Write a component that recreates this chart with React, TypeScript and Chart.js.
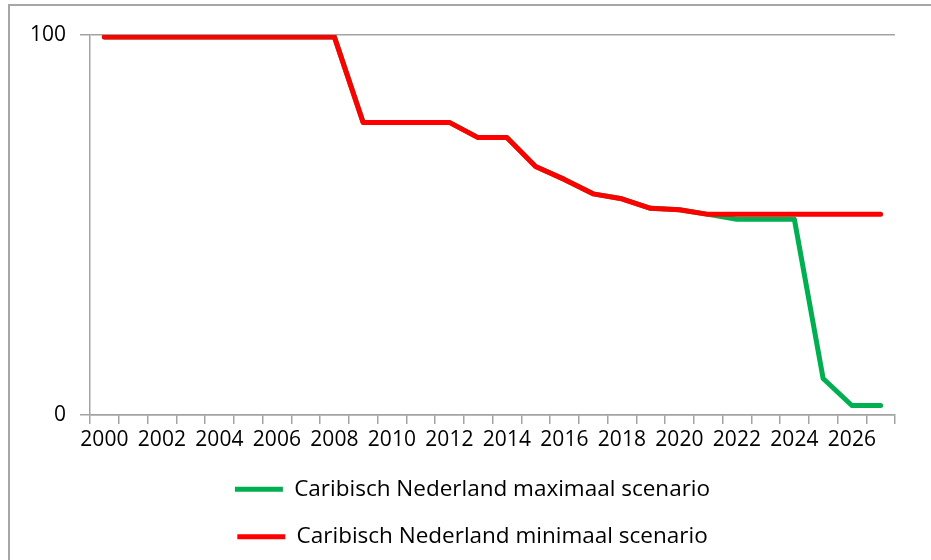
import React, { useEffect, useRef } from "react";
import { Chart, registerables } from "chart.js";

Chart.register(...registerables);

const years = [
  "2000", "2001", "2002", "2003", "2004", "2005", "2006", "2007", "2008", "2009",
  "2010", "2011", "2012", "2013", "2014", "2015", "2016", "2017", "2018", "2019",
  "2020", "2021", "2022", "2023", "2024", "2025", "2026", "2027",
];

const maxScenario = [
  99.5, 99.5, 99.5, 99.5, 99.5, 99.5, 99.5, 99.5, 99.5, 77,
  77, 77, 77, 73, 73, 65.4, 62, 58.2, 56.9, 54.4,
  54, 52.8, 51.5, 51.5, 51.5, 9.6, 2.5, 2.5,
];

const minScenario = [
  99.5, 99.5, 99.5, 99.5, 99.5, 99.5, 99.5, 99.5, 99.5, 77,
  77, 77, 77, 73, 73, 65.4, 62, 58.2, 56.9, 54.4,
  54, 52.8, 52.8, 52.8, 52.8, 52.8, 52.8, 52.8,
];

const yTickValues = [0, 100];

const seriesNames = [
  "Caribisch Nederland maximaal scenario",
  "Caribisch Nederland minimaal scenario",
];

const FONT = "'Open Sans', sans-serif";
const GRID = "#a3a3a3";
const LEGEND_SHIFT = 25;

const legendShift = {
  id: "legendShift",
  afterLayout(chart: any) {
    const lg = chart.legend;
    if (lg) {
      lg.left += LEGEND_SHIFT;
      lg.right += LEGEND_SHIFT;
    }
  },
};

export default function App() {
  const canvasRef = useRef<HTMLCanvasElement | null>(null);

  useEffect(() => {
    const canvas = canvasRef.current;
    if (!canvas) return;
    const chart = new Chart(canvas, {
      type: "line",
      plugins: [legendShift],
      data: {
        labels: years,
        datasets: [
          {
            label: seriesNames[0],
            data: maxScenario,
            borderColor: "#00b050",
            backgroundColor: "#00b050",
            borderWidth: 5,
            borderCapStyle: "round",
            borderJoinStyle: "round",
            pointRadius: 0,
            tension: 0,
            order: 1,
          },
          {
            label: seriesNames[1],
            data: minScenario,
            borderColor: "#ff0000",
            backgroundColor: "#ff0000",
            borderWidth: 5,
            borderCapStyle: "round",
            borderJoinStyle: "round",
            pointRadius: 0,
            tension: 0,
            order: 0,
          },
        ],
      },
      options: {
        animation: false,
        responsive: false,
        maintainAspectRatio: false,
        layout: { padding: { top: 35, right: 36, left: 0, bottom: 0 } },
        plugins: {
          tooltip: { enabled: false },
          legend: {
            position: "bottom",
            labels: {
              sort: (a: any, b: any) => a.datasetIndex - b.datasetIndex,
              usePointStyle: true,
              pointStyle: "line",
              pointStyleWidth: 48,
              boxHeight: 22.5,
              padding: 25,
              color: "#000000",
              font: { family: FONT, size: 22.5 },
            },
          },
        },
        scales: {
          x: {
            type: "category",
            offset: true,
            afterFit: (scale: any) => {
              scale.height = 38;
            },
            grid: {
              offset: true,
              drawOnChartArea: false,
              drawTicks: true,
              tickLength: 9,
              color: GRID,
              lineWidth: 1.5,
            },
            border: { display: true, color: GRID, width: 1.5 },
            ticks: {
              autoSkip: false,
              maxRotation: 0,
              minRotation: 0,
              padding: 3,
              color: "#000000",
              font: { family: FONT, size: 21 },
              callback: (_v: any, i: number) => (i % 2 === 0 ? years[i] : ""),
            },
          },
          y: {
            min: 0,
            max: 100,
            afterFit: (scale: any) => {
              scale.width = 90;
            },
            afterBuildTicks: (scale: any) => {
              scale.ticks = yTickValues.map((v) => ({ value: v }));
            },
            grid: {
              drawOnChartArea: true,
              drawTicks: true,
              tickLength: 10,
              color: GRID,
              lineWidth: 1.5,
            },
            border: { display: true, color: GRID, width: 1.5 },
            ticks: {
              padding: 14,
              color: "#000000",
              font: { family: FONT, size: 21 },
            },
          },
        },
      },
    });
    return () => chart.destroy();
  }, []);

  return (
    <div
      style={{
        position: "fixed",
        left: 0,
        top: 0,
        width: 931,
        height: 560,
        overflow: "hidden",
        background: "#ffffff",
      }}
    >
      <div
        style={{
          position: "absolute",
          left: 8,
          top: 4,
          width: 940,
          height: 600,
          borderTop: "2px solid #a6a6a6",
          borderLeft: "2px solid #a6a6a6",
        }}
      />
      <canvas
        ref={canvasRef}
        width={931}
        height={558}
        style={{ position: "absolute", left: 0, top: 0, width: 931, height: 558 }}
      />
    </div>
  );
}
